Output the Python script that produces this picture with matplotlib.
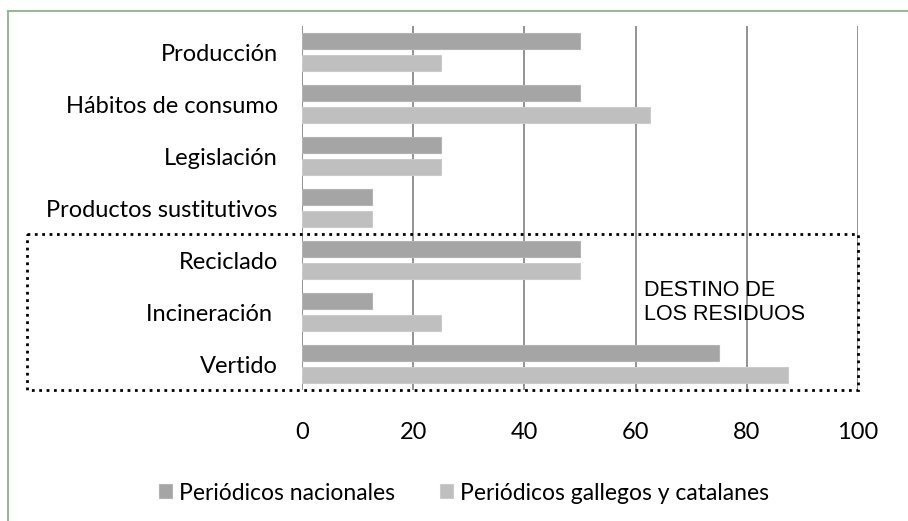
import matplotlib.pyplot as plt
import numpy as np
from matplotlib.patches import Rectangle
from matplotlib.lines import Line2D

# data
categorias = ['Producción', 'Hábitos de consumo', 'Legislación', 'Productos sustitutivos',
              'Reciclado', 'Incineración ', 'Vertido']
nacionales = [50, 50, 25, 12.5, 50, 12.5, 75]
gallegos_catalanes = [25, 62.5, 25, 12.5, 50, 25, 87.5]
series_labels = ['Periódicos nacionales', 'Periódicos gallegos y catalanes']
xticks = [0, 20, 40, 60, 80, 100]

plt.rcParams['font.family'] = ['Lato', 'DejaVu Sans']

fig = plt.figure(figsize=(9.08, 5.21), dpi=100)
ax = fig.add_axes([302 / 908, 1 - 390 / 521, 556 / 908, 364 / 521])

y = np.arange(len(categorias))
h = 0.32
ax.barh(y - 0.21, nacionales, height=h, color='#a5a5a5', edgecolor='#b4b4b4',
        linewidth=0.8, label=series_labels[0], zorder=3)
ax.barh(y + 0.21, gallegos_catalanes, height=h, color='#bfbfbf', edgecolor='#cbcbcb',
        linewidth=0.8, label=series_labels[1], zorder=3)

ax.set_xlim(0, 100)
ax.set_ylim(len(categorias) - 0.5, -0.5)
ax.set_xticks(xticks)
ax.set_yticks(y)
ax.set_yticklabels(categorias, fontsize=17)
ax.tick_params(axis='x', length=0, pad=23, labelsize=17)
ax.tick_params(axis='y', length=0, pad=17.5)
ax.grid(axis='x', color='#8a8a8a', linewidth=1.3, zorder=0)
for s in ax.spines.values():
    s.set_visible(False)

# dotted box around "destino de los residuos"
box = Rectangle((-49.5, 3.5), 149.5, 3.0, fill=False, linestyle=':', linewidth=2,
                edgecolor='black', clip_on=False, zorder=4)
ax.add_patch(box)
ax.text(61.5, 4.82, 'DESTINO DE\nLOS RESIDUOS', family='Liberation Sans', fontsize=15.5,
        va='center', ha='left', linespacing=1.15)

# chart frame (top and left only)
fig.add_artist(Line2D([8 / 908, 1], [1 - 11 / 521, 1 - 11 / 521], color='#98b898', lw=1.5))
fig.add_artist(Line2D([8 / 908, 8 / 908], [0, 1 - 11 / 521], color='#98b898', lw=1.5))

fig.legend(loc='center', bbox_to_anchor=(464 / 908, 1 - 493 / 521), ncol=2, frameon=False,
           fontsize=16.5, handlelength=0.55, handleheight=0.55, handletextpad=0.3,
           columnspacing=2.0, borderaxespad=0)

plt.savefig('out.png', dpi=100)
